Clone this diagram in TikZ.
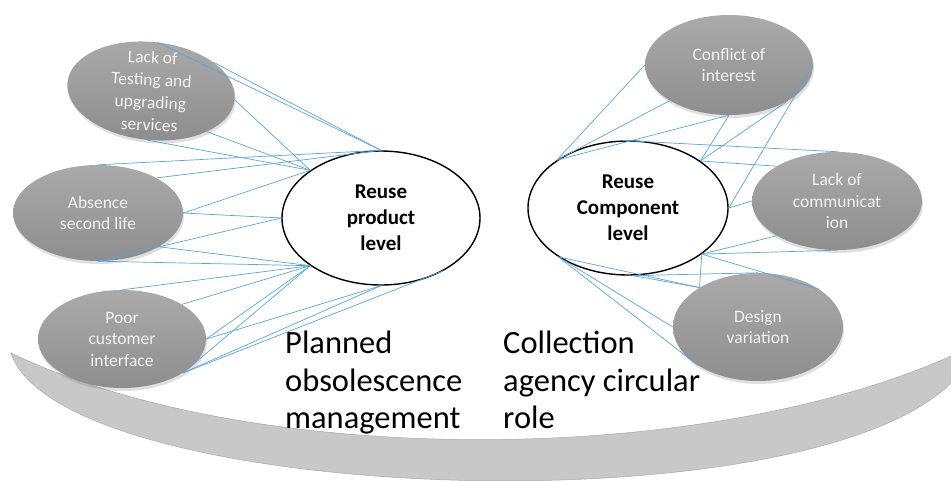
\documentclass[tikz,border=0pt]{standalone}
\usepackage{fontspec}
\setmainfont{Carlito}
\usetikzlibrary{shapes.geometric,shadows}
\definecolor{linkblue}{RGB}{88,165,225}
\definecolor{ovtop}{RGB}{170,170,170}
\definecolor{ovbot}{RGB}{142,142,142}
\definecolor{bandfill}{RGB}{200,200,200}
\definecolor{bandedge}{RGB}{170,170,170}
\begin{document}
\begin{tikzpicture}[x=1pt,y=-1pt,
  greyoval/.style={ellipse, inner sep=0pt, top color=ovtop, bottom color=ovbot, draw=none,
    drop shadow={shadow xshift=1pt,shadow yshift=-3pt,opacity=0.25}},
  whiteoval/.style={ellipse, inner sep=0pt, draw=black, line width=1.4pt, fill=white},
  greytext/.style={align=center, text=white!95!black, font=\fontsize{17.5}{21.5}\selectfont, inner sep=0pt},
  boldtext/.style={align=center, font=\bfseries\fontsize{21}{26}\selectfont, inner sep=0pt},
  bigtext/.style={align=left, font=\fontsize{32.5}{37.5}\selectfont, inner sep=0pt, anchor=north west},
  link/.style={draw=linkblue, line width=0.7pt}
]
\useasboundingbox (0,0) rectangle (951,480);

% crescent band
\path[fill=bandfill, draw=bandedge, line width=0.5pt]
  (11,353) .. controls (250,468) and (700,468) .. (951,356)
  -- (951,383) .. controls (800,532) and (60,502) .. (11,353) -- cycle;

% grey ovals
\node[greyoval, minimum width=168pt, minimum height=98pt, rotate=-6] (L1) at (151,91) {};
\node[greyoval, minimum width=170pt, minimum height=96pt] (L2) at (98,213) {};
\node[greyoval, minimum width=168pt, minimum height=98pt] (L3) at (122,339) {};
\node[greyoval, minimum width=168pt, minimum height=100pt] (R1) at (729,65) {};
\node[greyoval, minimum width=170pt, minimum height=98pt] (R2) at (837,201) {};
\node[greyoval, minimum width=170pt, minimum height=108pt] (R3) at (758,327) {};

% white ovals
\node[whiteoval, minimum width=198pt, minimum height=134pt] (P) at (381,218) {};
\node[whiteoval, minimum width=200pt, minimum height=134pt] (C) at (628,208) {};

% links left
\draw[link] (L1.89) -- (P.90);
\draw[link] (L1.31) -- (P.90);
\draw[link] (L1.0) -- (P.146);
\draw[link] (L1.330) -- (P.146);
\draw[link] (L1.271) -- (P.146);
\draw[link] (L2.90) -- (P.90);
\draw[link] (L2.31) -- (P.90);
\draw[link] (L2.0) -- (P.146);
\draw[link] (L2.0) -- (P.180);
\draw[link] (L2.270) -- (P.180);
\draw[link] (L2.331) -- (P.214);
\draw[link] (L2.270) -- (P.214);
\draw[link] (L3.90) -- (P.214);
\draw[link] (L3.30) -- (P.214);
\draw[link] (L3.0) -- (P.214);
\draw[link] (L3.0) -- (P.270);
\draw[link] (L3.331) -- (P.214);
\draw[link] (L3.331) -- (P.270);
\draw[link] (L3.331) -- (P.320);

% links right
\draw[link] (R1.180) -- (C.146);
\draw[link] (R1.211) -- (C.146);
\draw[link] (R1.270) -- (C.146);
\draw[link] (R1.270) -- (C.33);
\draw[link] (R1.328) -- (C.33);
\draw[link] (R1.0) -- (C.0);
\draw[link] (C.95) -- (R2.88);
\draw[link] (C.33) -- (R2.150);
\draw[link] (C.0) -- (R2.180);
\draw[link] (C.328) -- (R2.210);
\draw[link] (C.328) -- (R2.270);
\draw[link] (C.328) -- (R3.32);
\draw[link] (C.328) -- (R3.146);
\draw[link] (C.274) -- (R3.90);
\draw[link] (C.274) -- (R3.146);
\draw[link] (C.215) -- (R3.146);
\draw[link] (C.215) -- (R3.180);
\draw[link] (C.215) -- (R3.213);

% texts
\node[greytext, rotate=-3, font=\fontsize{17.5}{22.5}\selectfont] (L1t) at (L1) {Lack of\\Testing and\\upgrading\\services};
\node[greytext] (L2t) at (L2) {Absence\\second life};
\node[greytext] (L3t) at (L3) {Poor\\customer\\interface};
\node[greytext] (R1t) at (R1) {Conflict of\\interest};
\node[greytext] (R2t) at (R2) {Lack of\\communicat\\ion};
\node[greytext] (R3t) at (R3) {Design\\variation};
\node[boldtext] (Pt) at (P) {Reuse\\product\\level};
\node[boldtext] (Ct) at (C) {Reuse\\Component\\level};

\node[bigtext] (POM) at (285,331) {Planned\\obsolescence\\management};
\node[bigtext] (CAC) at (503,331) {Collection\\agency circular\\role};
\end{tikzpicture}
\end{document}
